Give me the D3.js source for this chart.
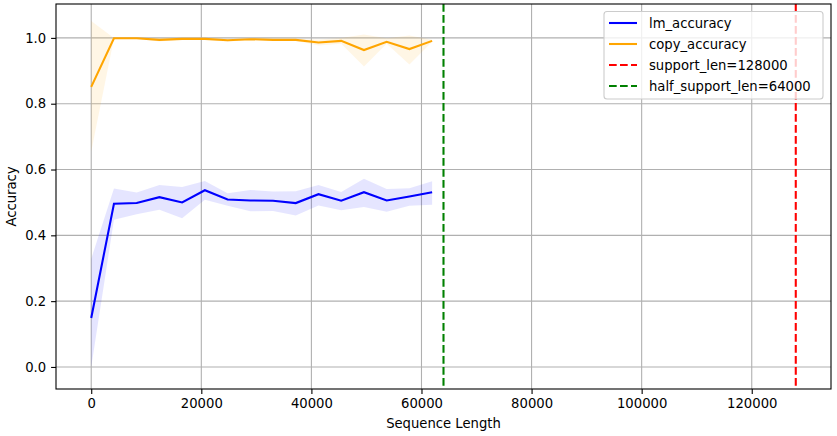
<!DOCTYPE html>
<html>
<head>
<meta charset="utf-8">
<script src="https://cdn.jsdelivr.net/npm/d3@7"></script>
<style>
  body { margin: 0; background: #fff; }
  svg text { font-family: "DejaVu Sans", sans-serif; }
</style>
</head>
<body>
<svg></svg>
<script>
// данные
const seqLen = [0, 4129, 8258, 12387, 16516, 20645, 24774, 28903, 33032, 37161, 41290, 45419, 49548, 53677, 57806, 61935];
const lmAcc   = [0.149, 0.496, 0.498, 0.516, 0.500, 0.537, 0.509, 0.506, 0.505, 0.498, 0.525, 0.505, 0.531, 0.506, 0.518, 0.531];
const lmLow   = [0.000, 0.447, 0.464, 0.478, 0.452, 0.508, 0.490, 0.473, 0.474, 0.460, 0.491, 0.476, 0.486, 0.472, 0.490, 0.493];
const lmHigh  = [0.329, 0.542, 0.530, 0.553, 0.547, 0.565, 0.528, 0.538, 0.533, 0.534, 0.553, 0.532, 0.572, 0.541, 0.543, 0.564];
const copyAcc  = [0.851, 0.999, 0.999, 0.994, 0.997, 0.997, 0.993, 0.996, 0.994, 0.994, 0.986, 0.991, 0.963, 0.988, 0.966, 0.991];
const copyLow  = [0.655, 0.998, 0.998, 0.989, 0.995, 0.995, 0.988, 0.994, 0.991, 0.991, 0.977, 0.982, 0.913, 0.982, 0.919, 0.988];
const copyHigh = [1.051, 1.000, 1.000, 0.999, 0.999, 0.999, 0.998, 0.998, 0.997, 0.997, 0.995, 1.000, 1.010, 0.999, 1.007, 0.994];
const supportLen = 128000;
const halfSupportLen = 64000;
const xTicks = [0, 20000, 40000, 60000, 80000, 100000, 120000];
const yTicks = [0.0, 0.2, 0.4, 0.6, 0.8, 1.0];

const width = 837;
const height = 436;
const margin = {left: 56, top: 4, right: 6, bottom: 47};
const fs = 13.2;

let svg = d3.select("svg")
  .attr("width", width)
  .attr("height", height);

const x = d3.scaleLinear().domain([-6400, 134400]).range([margin.left, width - margin.right]);
const y = d3.scaleLinear().domain([-0.067, 1.103]).range([height - margin.bottom, margin.top]);

// сетка
let grid = svg.append("g").style("stroke", "#b0b0b0").style("stroke-width", 1.1);
xTicks.forEach(t => grid.append("line")
  .attr("x1", x(t)).attr("x2", x(t))
  .attr("y1", margin.top).attr("y2", height - margin.bottom));
yTicks.forEach(t => grid.append("line")
  .attr("x1", margin.left).attr("x2", width - margin.right)
  .attr("y1", y(t)).attr("y2", y(t)));

// полосы и линии
const series = [
  {name: "lm_accuracy", color: "blue", mean: lmAcc, low: lmLow, high: lmHigh},
  {name: "copy_accuracy", color: "orange", mean: copyAcc, low: copyLow, high: copyHigh}
];

const area = d3.area()
  .x(d => x(d.x)).y0(d => y(d.lo)).y1(d => y(d.hi));
const line = d3.line()
  .x(d => x(d.x)).y(d => y(d.v));

series.forEach(s => {
  const pts = seqLen.map((v, i) => ({x: v, v: s.mean[i], lo: s.low[i], hi: s.high[i]}));
  svg.append("path")
    .attr("d", area(pts))
    .attr("fill", s.color)
    .attr("fill-opacity", 0.1);
  svg.append("path")
    .attr("d", line(pts))
    .attr("fill", "none")
    .attr("stroke", s.color)
    .attr("stroke-width", 2.08);
});

// вертикальные линии
const vlines = [
  {name: "support_len=" + supportLen, value: supportLen, color: "red"},
  {name: "half_support_len=" + halfSupportLen, value: halfSupportLen, color: "green"}
];
vlines.forEach(v => svg.append("line")
  .attr("x1", x(v.value)).attr("x2", x(v.value))
  .attr("y1", margin.top).attr("y2", height - margin.bottom)
  .attr("stroke", v.color)
  .attr("stroke-width", 2.08)
  .attr("stroke-dasharray", "7.7,3.3"));

// оси
const xAxis = svg.append("g")
  .attr("transform", `translate(0,${height - margin.bottom})`)
  .call(d3.axisBottom(x).tickValues(xTicks).tickFormat(d3.format("d")).tickSizeOuter(0).tickSize(4.9).tickPadding(4.9));
const yAxis = svg.append("g")
  .attr("transform", `translate(${margin.left},0)`)
  .call(d3.axisLeft(y).tickValues(yTicks).tickFormat(d3.format(".1f")).tickSizeOuter(0).tickSize(4.9).tickPadding(4.9));
[xAxis, yAxis].forEach(a => {
  a.select(".domain").remove();
  a.selectAll("line").attr("stroke", "#000").attr("stroke-width", 1.1);
  a.selectAll("text").attr("font-family", "DejaVu Sans").attr("font-size", fs).attr("fill", "#000");
});

// рамка
svg.append("rect")
  .attr("x", margin.left).attr("y", margin.top)
  .attr("width", width - margin.left - margin.right)
  .attr("height", height - margin.top - margin.bottom)
  .attr("fill", "none").attr("stroke", "#000").attr("stroke-width", 1.1);

// подписи осей
svg.append("text")
  .attr("x", (margin.left + width - margin.right) / 2).attr("y", 428)
  .attr("text-anchor", "middle").attr("font-size", fs)
  .text("Sequence Length");
svg.append("text")
  .attr("transform", `translate(16,${(margin.top + height - margin.bottom) / 2}) rotate(-90)`)
  .attr("text-anchor", "middle").attr("font-size", fs)
  .text("Accuracy");

// легенда
let legend = svg.append("g");
legend.append("rect")
  .attr("x", 604).attr("y", 11.5).attr("width", 219).attr("height", 87.5)
  .attr("rx", 3).attr("fill", "#fff").attr("fill-opacity", 0.8)
  .attr("stroke", "#cccccc").attr("stroke-width", 1.1);
const items = series.map(s => ({name: s.name, color: s.color, dash: null}))
  .concat(vlines.map(v => ({name: v.name, color: v.color, dash: "7.7,3.3"})));
items.forEach((it, i) => {
  const yy = 23 + i * 21;
  legend.append("line")
    .attr("x1", 609).attr("x2", 637).attr("y1", yy).attr("y2", yy)
    .attr("stroke", it.color).attr("stroke-width", 2.08)
    .attr("stroke-dasharray", it.dash);
  legend.append("text")
    .attr("x", 649).attr("y", yy + 5)
    .attr("font-size", fs)
    .text(it.name);
});
</script>
</body>
</html>
